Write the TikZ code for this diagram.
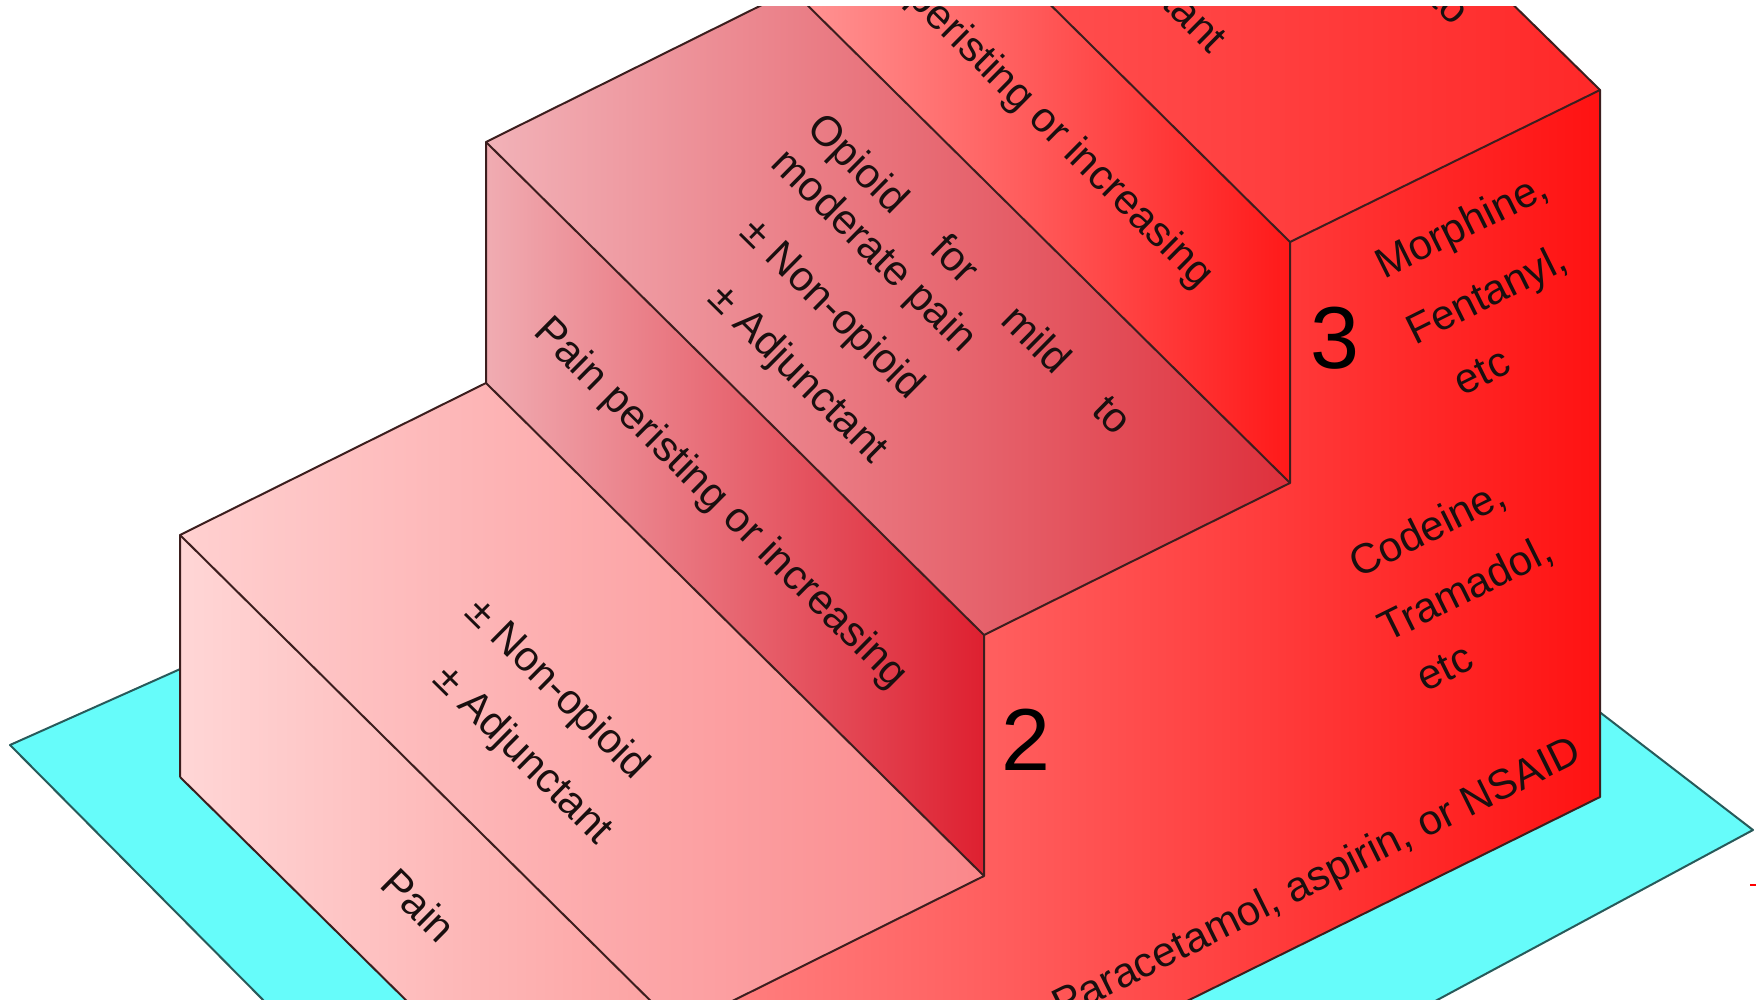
\documentclass[tikz,border=0pt]{standalone}
\usepackage{fontspec}
\setmainfont{Liberation Sans}
\definecolor{edgecol}{RGB}{60,30,30}
\definecolor{txtcol}{RGB}{25,15,15}
\definecolor{cyanfill}{RGB}{102,252,250}
\definecolor{cyanedge}{RGB}{40,90,90}
\begin{document}
\begin{tikzpicture}[x=0.5pt,y=-0.5pt,
  edge/.style={draw=edgecol,line width=1pt,line join=round},
  lbl/.style={font=\fontsize{21}{25}\selectfont,text=txtcol,inner sep=0pt},
  topl/.style={lbl,rotate=-44.7},
  sidel/.style={lbl,rotate=26.4},
  bignum/.style={font=\fontsize{44}{50}\selectfont,text=black,inner sep=0pt}]
\useasboundingbox (0,0) rectangle (1756,1000);
\fill[white] (0,0) rectangle (1756,1000);
% corner points of the staircase
\coordinate (A0) at (180,777);
\coordinate (A1) at (180,535);
\coordinate (B1) at (486,383);
\coordinate (B2) at (486,142);
\coordinate (C2) at (792,-10);
\coordinate (C3) at (792,-251);
\coordinate (E3) at (1098,-403);
\coordinate (a0) at (667,1258);
\coordinate (a1) at (678,1028);
\coordinate (b1) at (984,876);
\coordinate (b2) at (984,635);
\coordinate (c2) at (1290,483);
\coordinate (c3) at (1290,242);
\coordinate (e3) at (1600,90);
\coordinate (e0) at (1600,797);
% base plane
\coordinate (L) at (10,745);
\coordinate (Bk) at (1043,284);
\coordinate (R) at (1753,830);
\coordinate (Fr) at (672,1412);
\begin{scope}
\clip (0,7) rectangle (1756,1000);
\fill[cyanfill] (L) -- (Bk) -- (R) -- (Fr) -- cycle;
\draw[cyanedge,line width=1pt,line join=round] (L) -- (Bk) -- (R) -- (Fr) -- cycle;
% faces
\shade[left color={rgb,255:red,255;green,214;blue,214},right color={rgb,255:red,252;green,160;blue,160}]
  (A0) -- (A1) -- (a1) -- (a0) -- cycle;
\shade[left color={rgb,255:red,255;green,208;blue,208},right color={rgb,255:red,250;green,135;blue,138}]
  (A1) -- (B1) -- (b1) -- (a1) -- cycle;
\shade[left color={rgb,255:red,240;green,172;blue,178},right color={rgb,255:red,222;green,32;blue,48}]
  (B1) -- (B2) -- (b2) -- (b1) -- cycle;
\shade[left color={rgb,255:red,242;green,178;blue,184},right color={rgb,255:red,222;green,48;blue,60}]
  (B2) -- (C2) -- (c2) -- (b2) -- cycle;
\shade[left color={rgb,255:red,255;green,150;blue,150},right color={rgb,255:red,255;green,25;blue,25}]
  (C2) -- (C3) -- (c3) -- (c2) -- cycle;
\shade[left color={rgb,255:red,255;green,95;blue,95},right color={rgb,255:red,255;green,40;blue,40}]
  (C3) -- (E3) -- (e3) -- (c3) -- cycle;
\shade[left color={rgb,255:red,255;green,135;blue,135},right color={rgb,255:red,255;green,18;blue,18}]
  (a0) -- (a1) -- (b1) -- (b2) -- (c2) -- (c3) -- (e3) -- (e0) -- cycle;
% edges
\draw[edge] (A0) -- (A1) -- (B1) -- (B2) -- (C2) -- (C3) -- (E3);
\draw[edge] (A0) -- (a0);
\draw[edge] (A1) -- (a1);
\draw[edge] (B1) -- (b1);
\draw[edge] (B2) -- (b2);
\draw[edge] (C2) -- (c2);
\draw[edge] (C3) -- (c3);
\draw[edge] (E3) -- (e3);
\draw[edge] (a0) -- (a1) -- (b1) -- (b2) -- (c2) -- (c3) -- (e3) -- (e0) -- cycle;
% texts on the steps
\node[topl] (pain) at (419,905) {Pain};
\node[topl] (s1a) at (556,690) {± Non-opioid};
\node[topl] (s1b) at (522,756) {± Adjunctant};
\node[topl] (r2) at (720,504) {Pain peristing or increasing};
\node[topl] (s2a) at (968,276) {\makebox[218pt][s]{Opioid for mild to}};
\node[topl] (s2b) at (873,252) {moderate pain};
\node[topl] (s2c) at (831,310) {± Non-opioid};
\node[topl] (s2d) at (797,375) {± Adjunctant};
\node[topl] (r3) at (1026,104) {Pain peristing or increasing};
\node[topl] (s3a) at (1306,-134) {\makebox[218pt][s]{Opioid for moderate to}};
\node[topl] (s3d) at (1135,-35) {± Adjunctant};
% texts on the side face
\node[bignum] (n2) at (1026,740) {2};
\node[bignum] (n3) at (1335,338) {3};
\node[sidel] (cod) at (1428,530) {Codeine,};
\node[sidel] (tra) at (1466,590) {Tramadol,};
\node[sidel] (etc2) at (1445,668) {etc};
\node[sidel] (mor) at (1463,228) {Morphine,};
\node[sidel] (fen) at (1488,297) {Fentanyl,};
\node[sidel] (etc3) at (1482,372) {etc};
\node[sidel] (para) at (1318,880) {Paracetamol, aspirin, or NSAID};
\end{scope}
\draw[red,line width=1.2pt] (1750,885) -- (1756,885);
\end{tikzpicture}
\end{document}
